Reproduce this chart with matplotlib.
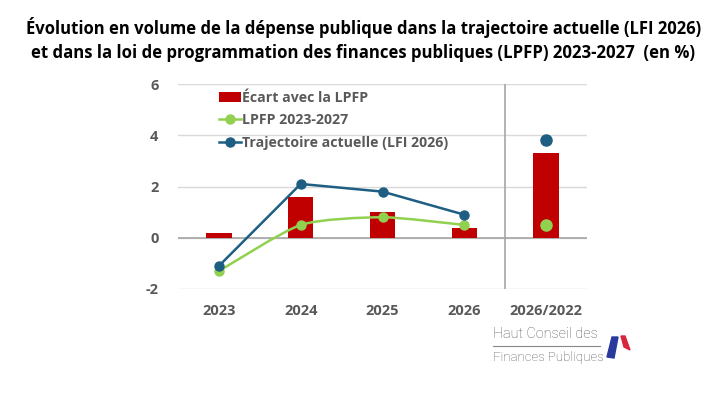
import matplotlib
matplotlib.use("Agg")
import matplotlib.pyplot as plt
import numpy as np
from matplotlib.path import Path
from matplotlib.patches import PathPatch, Polygon
from matplotlib.lines import Line2D
from matplotlib.patches import Patch

# ---- data ----
categories = ["2023", "2024", "2025", "2026", "2026/2022"]
ecart = [0.2, 1.6, 1.0, 0.4, 3.3]
lpfp = [-1.3, 0.5, 0.8, 0.5, 0.5]
trajectoire = [-1.1, 2.1, 1.8, 0.9, 3.8]
yticks = [-2, 0, 2, 4, 6]
title_lines = ["Évolution en volume de la dépense publique dans la trajectoire actuelle (LFI 2026)",
               "et dans la loi de programmation des finances publiques (LPFP) 2023-2027  (en %)"]
legend_labels = ["Écart avec la LPFP", "LPFP 2023-2027", "Trajectoire actuelle (LFI 2026)"]
logo_lines = ["Haut Conseil des", "Finances Publiques"]

RED = "#C00000"
GREEN = "#92D050"
BLUE = "#1D5E82"
GRAY_TXT = "#595959"

plt.rcParams['font.family'] = ['Open Sans', 'DejaVu Sans']

W, H = 728, 409
fig = plt.figure(figsize=(W/100, H/100), dpi=100)
ax = fig.add_axes([178/W, 1-289/H, (587-178)/W, (289-84)/H])

x = np.arange(len(categories))
n_series = 4  # first four are the time series, last is cumulative

ax.bar(x, ecart, width=0.31, color=RED, zorder=2)

# smoothed LPFP line (bezier through series points)
px = x[:n_series].astype(float)
py = np.array(lpfp[:n_series], dtype=float)
k = 1/9
verts = [(px[0], py[0])]
codes = [Path.MOVETO]
for i in range(n_series - 1):
    p0 = np.array([px[max(i-1, 0)], py[max(i-1, 0)]])
    p1 = np.array([px[i], py[i]])
    p2 = np.array([px[i+1], py[i+1]])
    p3 = np.array([px[min(i+2, n_series-1)], py[min(i+2, n_series-1)]])
    c1 = p1 + (p2 - p0) * k
    c2 = p2 - (p3 - p1) * k
    verts += [tuple(c1), tuple(c2), tuple(p2)]
    codes += [Path.CURVE4] * 3
ax.add_patch(PathPatch(Path(verts, codes), fill=False, edgecolor=GREEN, lw=1.8, zorder=3))
ax.plot(px, py, linestyle="none", marker="o", ms=6.5, color=GREEN, zorder=4)
ax.plot(x[n_series:], lpfp[n_series:], linestyle="none", marker="o", ms=8, color=GREEN, zorder=4)

ax.plot(x[:n_series], trajectoire[:n_series], color=BLUE, lw=1.8, marker="o", ms=6.5, zorder=5)
ax.plot(x[n_series:], trajectoire[n_series:], linestyle="none", marker="o", ms=8, color=BLUE, zorder=5)

ax.set_xlim(-0.5, len(categories) - 0.5)
ax.set_ylim(-2, 6)
ax.set_yticks(yticks)
ax.set_yticklabels([str(v) for v in yticks])
ax.set_xticks(x)
ax.set_xticklabels(categories)
for s in ax.spines.values():
    s.set_visible(False)
ax.tick_params(length=0, labelsize=10.5, labelcolor=GRAY_TXT)
ax.tick_params(axis='y', pad=14)
ax.tick_params(axis='x', pad=11)
for lab in ax.get_xticklabels() + ax.get_yticklabels():
    lab.set_fontweight("bold")
ax.yaxis.grid(True, color="#D9D9D9", lw=1, zorder=0)
ax.set_axisbelow(True)
ax.axhline(0, color="#A6A6A6", lw=1.2, zorder=1)
ax.axvline(n_series - 0.5, color="#A6A6A6", lw=1.2, zorder=1)

handles = [Patch(facecolor=RED, edgecolor="none"),
           Line2D([], [], color=GREEN, lw=1.8, marker="o", ms=6.5),
           Line2D([], [], color=BLUE, lw=1.8, marker="o", ms=6.5)]
leg = ax.legend(handles, legend_labels, loc="upper left", bbox_to_anchor=(0.068, 1.03),
                frameon=False, handlelength=1.6, handletextpad=0.05, labelspacing=0.62,
                prop={"weight": "bold", "size": 10.2})
for t in leg.get_texts():
    t.set_color(GRAY_TXT)

# title
title_specs = [(title_lines[0], 28, 700, 28), (title_lines[1], 33, 693, 53)]
renderer = fig.canvas.get_renderer()
for line, x0, x1, yc in title_specs:
    t = fig.text((x0 + x1)/2/W, 1 - yc/H, line, ha="center", va="center",
                 fontsize=12, fontweight="bold", color="black")
    w = t.get_window_extent(renderer).width
    t.set_fontsize(12 * (x1 - x0) / w)

# logo
for line, yc, target in zip(logo_lines, [334, 357], [104, 110]):
    t = fig.text(493/W, 1 - yc/H, line, fontsize=11, color="#555555",
                 family="Roboto", fontweight="light", ha="left", va="center")
    w = t.get_window_extent(renderer).width
    t.set_fontsize(11 * target / w)
fig.add_artist(Line2D([493/W, 600/W], [1 - 346/H, 1 - 346/H], color="#888888", lw=0.8))
def fpt(px_, py_):
    return (px_/W, 1 - py_/H)
fig.add_artist(Polygon([fpt(612, 337), fpt(618, 337), fpt(614, 358), fpt(607, 357)],
                       closed=True, color="#2A3A9C", transform=fig.transFigure))
fig.add_artist(Polygon([fpt(621, 336), fpt(625, 336), fpt(630, 350), fpt(624, 347)],
                       closed=True, color="#D7263D", transform=fig.transFigure))

fig.savefig("out.png", dpi=100)
